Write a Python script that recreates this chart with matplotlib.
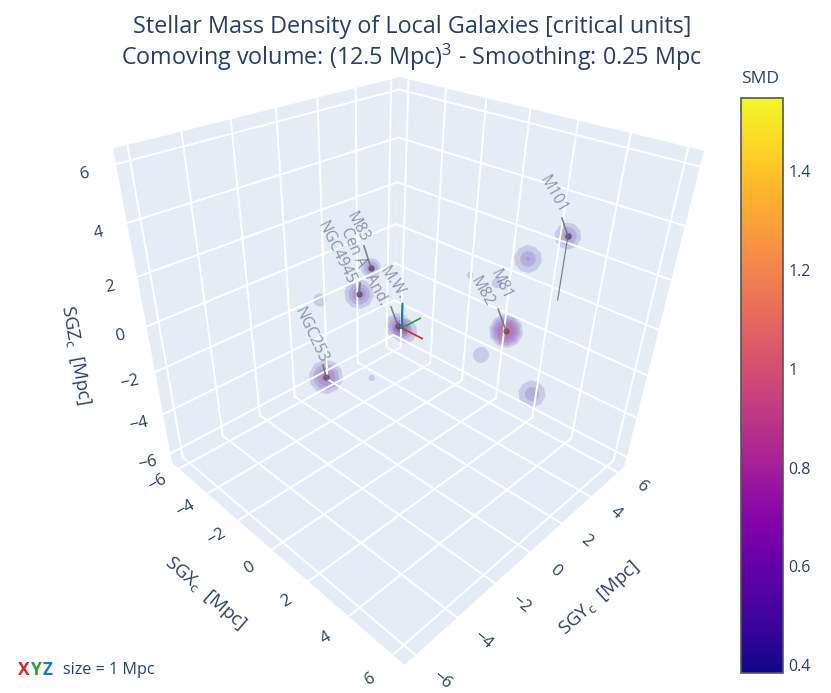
import matplotlib
matplotlib.use("Agg")
import matplotlib.pyplot as plt
import numpy as np
from matplotlib.cm import ScalarMappable
from matplotlib.colors import Normalize
from matplotlib.patches import Polygon

plt.rcParams["font.family"] = ["Open Sans", "DejaVu Sans"]
plt.rcParams["mathtext.default"] = "regular"

# galaxies, positions in Mpc, peak of the density, blob radius in Mpc
sgx = [2.74, 2.11, 1.44, 2.74, 2.46, 3.09, 5.26, 0.71, -3.29, -4.43, -2.23, 0.46, -0.19, 0.11]
sgy = [5.75, 4.32, 1.85, 2.52, 2.04, 0.65, 0.64, -4.27, 1.04, 2.83, -1.90, -1.96, 0.01, 0.06]
sgz = [2.65, 2.00, 2.00, 0.00, 2.00, 0.00, -0.50, 0.30, -0.30, -0.20, 1.00, -1.00, 0.00, -0.10]
peak = [0.85, 0.75, 0.42, 1.5, 0.42, 0.52, 0.72, 1.05, 0.95, 0.9, 0.45, 0.42, 1.0, 0.8]
radius = [0.52, 0.55, 0.13, 0.7, 0.2, 0.33, 0.54, 0.66, 0.66, 0.46, 0.27, 0.14, 0.54, 0.52]
marked = [0, 3, 7, 8, 9, 12]

label_names = ["M101", "M83", "Cen A", "NGC4945", "And.", "M.W.", "NGC253", "M81", "M82"]
label_hosts = [0, 9, 8, 8, 12, 12, 7, 3, 3]

ticks = [-6, -4, -2, 0, 2, 4, 6]
cbar_ticks = [0.4, 0.6, 0.8, 1, 1.2, 1.4]
cbar_labels = ["0.4", "0.6", "0.8", "1", "1.2", "1.4"]
levels = [0.4, 0.55, 0.7, 0.85, 1.0, 1.15, 1.3, 1.45]

TXT = "#2a3f5f"
R = 6.5

# camera fitted on the corners of the box
corners_world = [(-R, -R, -R), (R, -R, -R), (R, R, -R), (-R, R, -R), (-R, -R, R), (-R, R, R), (R, R, R)]
corners_px = [(171, 464), (405, 664), (623, 468), (395, 342), (114, 148), (398, 78), (705, 150)]
rows = []
for (X, Y, Z), (u, v) in zip(corners_world, corners_px):
    rows.append([X, Y, Z, 1, 0, 0, 0, 0, -u * X, -u * Y, -u * Z, -u])
    rows.append([0, 0, 0, 0, X, Y, Z, 1, -v * X, -v * Y, -v * Z, -v])
P = np.linalg.svd(np.array(rows, float))[2][-1].reshape(3, 4)


def project(x, y, z):
    h = P @ np.array([x, y, z, 1.0])
    return h[0] / h[2], h[1] / h[2]


def line3d(a, b, **kw):
    ua, va = project(*a)
    ub, vb = project(*b)
    ax.plot([ua, ub], [va, vb], solid_capstyle="round", **kw)


fig = plt.figure(figsize=(8.31, 6.93), dpi=100)
ax = fig.add_axes([0, 0, 1, 1])
ax.set_xlim(0, 831)
ax.set_ylim(693, 0)
ax.axis("off")

panes = [
    [(-R, -R, -R), (-R, R, -R), (-R, R, R), (-R, -R, R)],
    [(-R, R, -R), (R, R, -R), (R, R, R), (-R, R, R)],
    [(-R, -R, -R), (R, -R, -R), (R, R, -R), (-R, R, -R)],
]
for pane in panes:
    ax.add_patch(Polygon([project(*c) for c in pane], fc="#E5ECF6", ec="none"))

grid = dict(color="white", lw=1.4)
for t in ticks:
    line3d((-R, t, -R), (-R, t, R), **grid)
    line3d((-R, -R, t), (-R, R, t), **grid)
    line3d((t, R, -R), (t, R, R), **grid)
    line3d((-R, R, t), (R, R, t), **grid)
    line3d((t, -R, -R), (t, R, -R), **grid)
    line3d((-R, t, -R), (R, t, -R), **grid)

# tick labels
tick_font = dict(fontsize=12, color=TXT, ha="center", va="center", rotation_mode="anchor")
for t in ticks:
    s = str(t).replace("-", "\u2212")
    u, v = project(t, -R - 1.2, -R)
    ax.text(u + 5, v, s, rotation=30, **tick_font)
    u, v = project(R + 1.2, t, -R)
    ax.text(u - 3, v, s, rotation=-40, **tick_font)
    u, v = project(-R - 0.8, -R - 0.8, t)
    ax.text(u + 5, v + 10, s, rotation=12, **tick_font)

title_font = dict(fontsize=13.5, color=TXT, ha="center", va="center", rotation_mode="anchor")
ax.text(205, 593, "SGX$_c$  [Mpc]", rotation=-41, **title_font)
ax.text(600, 598, "SGY$_c$  [Mpc]", rotation=42, **title_font)
ax.text(75, 355, "SGZ$_c$  [Mpc]", rotation=-80, **title_font)

# density blobs
cmap = plt.get_cmap("plasma")
norm = Normalize(0.384, 1.548)
angles = np.linspace(0, 2 * np.pi, 10, endpoint=False) + 0.2
for x, y, z, p, r in zip(sgx, sgy, sgz, peak, radius):
    cu, cv = project(x, y, z)
    top = project(x, y, z + r)
    size = np.hypot(top[0] - cu, top[1] - cv)
    for level in levels:
        if level >= p:
            break
        rad = size * (1 - (level - 0.4) / (p - 0.4))
        alpha = 0.14 + 0.6 * max(0, level - 0.85)
        ax.add_patch(Polygon(np.c_[cu + rad * np.cos(angles), cv + rad * np.sin(angles)],
                             fc=cmap(norm(level)), ec="none", alpha=alpha))

for i in marked:
    u, v = project(sgx[i], sgy[i], sgz[i])
    ax.plot(u, v, "o", ms=4.5, color="#5a4f5a", alpha=0.85, mec="none")

# pointers and names
pointers = [(-6, -18), (-7, -22), (1, -11), (0, 0), (0, 0), (-7, -19), (-3, -12), (-8, -22), (0, 0)]
centres = [(-15, -41), (-14, -41), (-6, -47), (-23, -41), (-22, -36), (-5, -43), (-15, -42), (-5, -46), (-24, -39)]
angles_txt = [-60, -62, -66, -64, -62, -57, -65, -65, -60]
for name, host, (dx, dy), (tx, ty), rot in zip(label_names, label_hosts, pointers, centres, angles_txt):
    u, v = project(sgx[host], sgy[host], sgz[host])
    if dx or dy:
        ax.plot([u, u + dx], [v, v + dy], color="#6f6f78", lw=1.2, alpha=0.85)
    ax.text(u + tx, v + ty, name, fontsize=11.2, color=TXT, alpha=0.5, rotation=rot,
            ha="center", va="center", rotation_mode="anchor")

# M101 drop to the plane z=0
line3d((sgx[0], sgy[0], sgz[0]), (sgx[0], sgy[0], 0), color="#6f6f78", lw=0.9, alpha=0.85)

# unit axes at the origin
line3d((0, 0, 0), (1, 0, 0), color="#d62728", lw=1.2)
line3d((0, 0, 0), (0, 1, 0), color="#2ca02c", lw=1.2)
line3d((0, 0, 0), (0, 0, 1), color="#1f77b4", lw=1.6)

ax.text(412, 27, "Stellar Mass Density of Local Galaxies [critical units]", fontsize=16.8, color=TXT,
        ha="center", va="center")
ax.text(412, 57, "Comoving volume: (12.5 Mpc)$^3$ - Smoothing: 0.25 Mpc", fontsize=16.8, color=TXT,
        ha="center", va="center")

ax.text(18, 670, "X", fontsize=12.5, fontweight="bold", color="#d62728", va="center")
ax.text(31, 670, "Y", fontsize=12.5, fontweight="bold", color="#2ca02c", va="center")
ax.text(43, 670, "Z", fontsize=12.5, fontweight="bold", color="#1f77b4", va="center")
ax.text(63, 670, "size = 1 Mpc", fontsize=11.6, color=TXT, va="center")

# colorbar
cax = fig.add_axes([741 / 831, (693 - 673) / 693, 42 / 831, 575 / 693])
cb = fig.colorbar(ScalarMappable(norm=norm, cmap=cmap), cax=cax)
cb.set_ticks(cbar_ticks, labels=cbar_labels)
cax.tick_params(length=0, labelsize=11.5, labelcolor=TXT, pad=4)
cb.outline.set_edgecolor("#555555")
cb.outline.set_linewidth(1.2)
ax.text(760, 79, "SMD", fontsize=12.5, color=TXT, ha="center", va="center")

fig.savefig("out.png", dpi=100)
